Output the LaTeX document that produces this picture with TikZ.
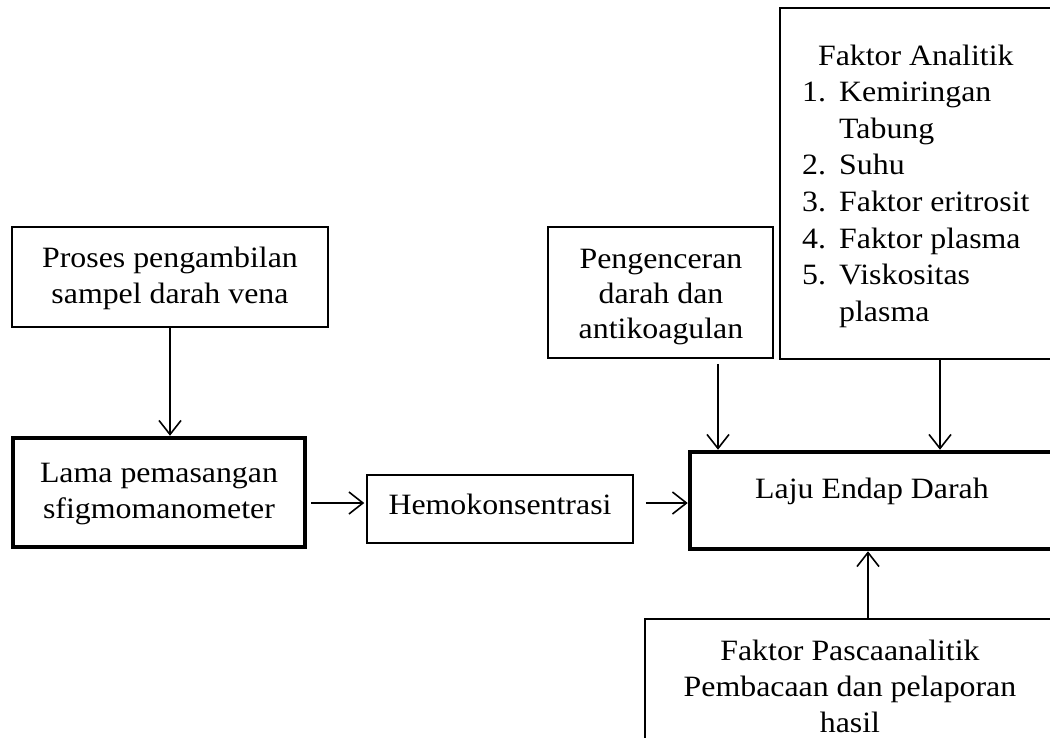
\documentclass[tikz,border=0pt]{standalone}
\usepackage{fontspec}
\setmainfont[FakeStretch=1.08]{Liberation Serif}
\usetikzlibrary{arrows.meta}
\newcommand{\mylines}[1]{\begin{tabular}[t]{@{}c@{}}#1\end{tabular}}
\begin{document}
\begin{tikzpicture}[x=1pt,y=-1pt,
  box/.style={draw, line width=1.5pt, inner sep=0pt, rectangle},
  thickbox/.style={draw, line width=4.5pt, inner sep=0pt, rectangle},
  txt/.style={anchor=base, inner sep=0pt, font=\fontsize{29.5}{36}\selectfont},
  arr/.style={line width=1.6pt, -{Straight Barb[length=14pt,width=22pt]}}]
\useasboundingbox (0,0) rectangle (1050,737);
\clip (0,0) rectangle (1050,737);
\fill[white] (0,0) rectangle (1050,737);

% boxes
\node[box, minimum width=316pt, minimum height=100pt] (proses) at (170,277) {};
\node[thickbox, minimum width=292pt, minimum height=109pt] (lama) at (159,492.5) {};
\node[box, minimum width=266pt, minimum height=68pt] (hemo) at (500,509) {};
\node[box, minimum width=225pt, minimum height=131pt] (peng) at (660.5,292.5) {};
\node[box, minimum width=275pt, minimum height=351pt] (anal) at (917.5,183.5) {};
\node[thickbox, minimum width=365pt, minimum height=97pt] (laju) at (872.5,500.5) {};
\node[box, minimum width=410pt, minimum height=142pt] (pasca) at (850,690) {};

% texts
\node[txt] (prosesT) at (170,267) {\mylines{Proses pengambilan\\sampel darah vena}};
\node[txt] (lamaT) at (159,482) {\mylines{Lama pemasangan\\sfigmomanometer}};
\node[txt] (hemoT) at (500,514) {Hemokonsentrasi};
\node[txt, font=\fontsize{29.5}{35}\selectfont] (pengT) at (661,268) {\mylines{Pengenceran\\darah dan\\antikoagulan}};
\node[txt] (lajuT) at (872,498) {Laju Endap Darah};
\node[txt, anchor=base west, font=\fontsize{29.5}{36.6}\selectfont] (analT) at (802,65)
  {\begin{tabular}[t]{@{}p{37pt}@{}l@{}}
   \multicolumn{2}{@{}c@{}}{Faktor Analitik}\\
   1. & Kemiringan\\
      & Tabung\\
   2. & Suhu\\
   3. & Faktor eritrosit\\
   4. & Faktor plasma\\
   5. & Viskositas\\
      & plasma
   \end{tabular}};
\node[txt] (pascaT) at (850,660) {\mylines{Faktor Pascaanalitik\\Pembacaan dan pelaporan\\hasil}};

% connectors
\coordinate (h1) at ([yshift=6pt]hemo.west);
\coordinate (h2) at ([yshift=6pt]hemo.east);
\coordinate (p1) at ([xshift=57.5pt]peng.south);
\coordinate (a1) at ([xshift=22.5pt]anal.south);
\coordinate (q1) at ([xshift=18pt]pasca.north);
\draw[arr] (proses.south) -- (proses.south |- lama.north);
\draw[arr, shorten <=4pt, shorten >=2pt] (lama.east |- h1) -- (h1);
\draw[arr, shorten <=12pt] (h2) -- (laju.west |- h2);
\draw[arr, shorten <=5pt] (p1) -- (p1 |- laju.north);
\draw[arr] (a1) -- (a1 |- laju.north);
\draw[arr] (q1) -- (q1 |- laju.south);
\end{tikzpicture}
\end{document}
